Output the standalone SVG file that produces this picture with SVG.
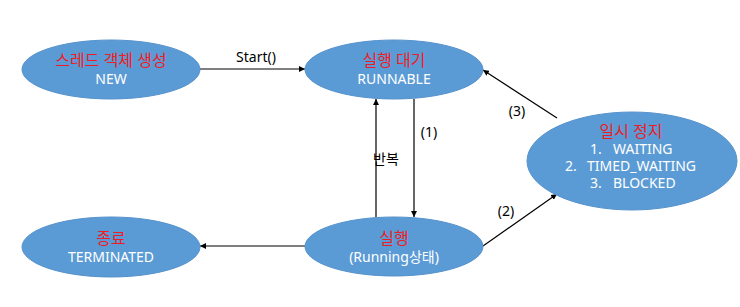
<svg xmlns="http://www.w3.org/2000/svg" width="740" height="307" viewBox="0 0 740 307">
<style>
.n{fill:#5B9BD5;stroke:#5592CC;stroke-width:1}
.r{fill:#EE1C25;font-family:"Noto Sans","Noto Sans CJK KR",sans-serif;font-size:16px;text-anchor:middle}
.w{fill:#FFFFFF;font-family:"Noto Sans","Noto Sans CJK KR",sans-serif;font-size:14px;text-anchor:middle}
.s{fill:#FFFFFF;font-family:"Noto Sans","Noto Sans CJK KR",sans-serif;font-size:14px}
.l{fill:#000000;font-family:"Noto Sans","Noto Sans CJK KR",sans-serif;font-size:14px;text-anchor:middle}
.c{stroke:#000000;stroke-width:1.2;fill:none;marker-end:url(#a)}
</style>
<defs>
<marker id="a" viewBox="0 0 10 10" refX="10" refY="5" markerWidth="6" markerHeight="6" orient="auto" markerUnits="userSpaceOnUse">
<path d="M0,0 L10,5 L0,10 z" fill="#000000"/>
</marker>
</defs>
<g id="connectors">
<line class="c" x1="200" y1="69" x2="305" y2="69"/>
<text class="l" x="256" y="62">Start()</text>
<line class="c" x1="376" y1="217" x2="376" y2="99"/>
<text class="l" x="386" y="164">반복</text>
<line class="c" x1="414" y1="99" x2="414" y2="217"/>
<text class="l" x="429" y="137">(1)</text>
<line class="c" x1="305" y1="246" x2="200" y2="246"/>
<line class="c" x1="483" y1="246" x2="557" y2="194"/>
<text class="l" x="506" y="216">(2)</text>
<line class="c" x1="557" y1="118" x2="483" y2="70"/>
<text class="l" x="517" y="116">(3)</text>
</g>
<g id="new">
<ellipse class="n" cx="111" cy="69.5" rx="89" ry="29.5"/>
<text class="r" x="111" y="66">스레드 객체 생성</text>
<text class="w" x="111" y="84">NEW</text>
</g>
<g id="runnable">
<ellipse class="n" cx="394" cy="69.5" rx="89" ry="29.5"/>
<text class="r" x="394" y="66">실행 대기</text>
<text class="w" x="394" y="84">RUNNABLE</text>
</g>
<g id="paused">
<ellipse class="n" cx="632" cy="161" rx="105" ry="49"/>
<text class="r" x="631" y="137">일시 정지</text>
<text class="s" x="590" y="154">1.</text><text class="s" x="613" y="154">WAITING</text>
<text class="s" x="565" y="171">2.</text><text class="s" x="587" y="171">TIMED_WAITING</text>
<text class="s" x="590" y="188">3.</text><text class="s" x="613" y="188">BLOCKED</text>
</g>
<g id="terminated">
<ellipse class="n" cx="111" cy="247" rx="89" ry="30"/>
<text class="r" x="111" y="244">종료</text>
<text class="w" x="111" y="262">TERMINATED</text>
</g>
<g id="running">
<ellipse class="n" cx="394" cy="246.5" rx="89" ry="29.5"/>
<text class="r" x="394" y="244">실행</text>
<text class="w" x="394" y="262">(Running상태)</text>
</g>
</svg>
